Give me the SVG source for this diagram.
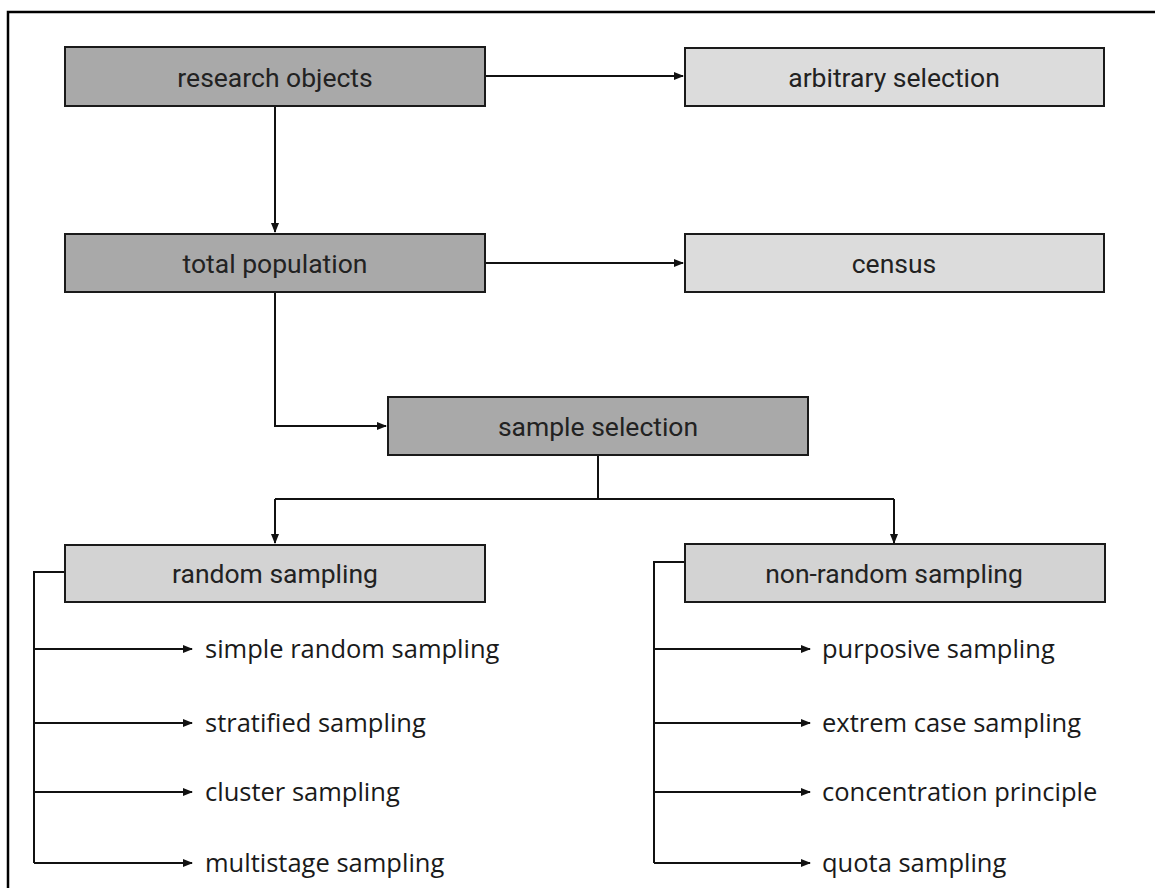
<svg xmlns="http://www.w3.org/2000/svg" width="1155" height="888" viewBox="0 0 1155 888">
<style>
.dark{fill:#a9a9a9;stroke:#1a1a1a;stroke-width:2}
.light{fill:#dcdcdc;stroke:#1a1a1a;stroke-width:2}
.mid{fill:#d3d3d3;stroke:#1a1a1a;stroke-width:2}
.bt{font-family:"Roboto","Liberation Sans",sans-serif;font-size:26.5px;fill:#222;text-anchor:middle;dominant-baseline:central}
.it{font-family:"Open Sans","Liberation Sans",sans-serif;font-size:25.5px;fill:#1a1a1a;dominant-baseline:central}
.c{fill:none;stroke:#111;stroke-width:2}
</style>
<defs>
<marker id="ah" viewBox="0 0 10 10" refX="9" refY="5" markerWidth="5" markerHeight="5" orient="auto" markerUnits="strokeWidth">
<path d="M0,1 L10,5 L0,9 z" fill="#111"/>
</marker>
</defs>
<rect width="1155" height="888" fill="#fff"/>
<path d="M8,888 L8,12 L1155,12" fill="none" stroke="#000" stroke-width="2.5"/>

<g id="connectors">
<path class="c" d="M485,76 H683" marker-end="url(#ah)"/>
<path class="c" d="M275,106 V232" marker-end="url(#ah)"/>
<path class="c" d="M485,263 H683" marker-end="url(#ah)"/>
<path class="c" d="M275,292 V426 H386" marker-end="url(#ah)"/>
<path class="c" d="M598,455 V499"/>
<path class="c" d="M275,499 H894"/>
<path class="c" d="M275,499 V543" marker-end="url(#ah)"/>
<path class="c" d="M894,499 V543" marker-end="url(#ah)"/>
<path class="c" d="M65,572 H34 V863"/>
<path class="c" d="M34,649 H192" marker-end="url(#ah)"/>
<path class="c" d="M34,723 H192" marker-end="url(#ah)"/>
<path class="c" d="M34,792 H192" marker-end="url(#ah)"/>
<path class="c" d="M34,863 H192" marker-end="url(#ah)"/>
<path class="c" d="M685,562 H654 V863"/>
<path class="c" d="M654,649 H810" marker-end="url(#ah)"/>
<path class="c" d="M654,723 H810" marker-end="url(#ah)"/>
<path class="c" d="M654,792 H810" marker-end="url(#ah)"/>
<path class="c" d="M654,863 H810" marker-end="url(#ah)"/>
</g>

<g id="research-objects"><rect class="dark" x="65" y="47" width="420" height="59"/><text class="bt" x="275" y="77">research objects</text></g>
<g id="arbitrary-selection"><rect class="light" x="685" y="48" width="419" height="58"/><text class="bt" x="894" y="77">arbitrary selection</text></g>
<g id="total-population"><rect class="dark" x="65" y="234" width="420" height="58"/><text class="bt" x="275" y="263">total population</text></g>
<g id="census"><rect class="light" x="685" y="234" width="419" height="58"/><text class="bt" x="894" y="263">census</text></g>
<g id="sample-selection"><rect class="dark" x="388" y="397" width="420" height="58"/><text class="bt" x="598" y="426">sample selection</text></g>
<g id="random-sampling"><rect class="mid" x="65" y="545" width="420" height="57"/><text class="bt" x="275" y="573">random sampling</text></g>
<g id="non-random-sampling"><rect class="mid" x="685" y="544" width="420" height="58"/><text class="bt" x="894" y="573">non-random sampling</text></g>

<g id="simple-random-sampling"><text class="it" x="205" y="648">simple random sampling</text></g>
<g id="stratified-sampling"><text class="it" x="205" y="722">stratified sampling</text></g>
<g id="cluster-sampling"><text class="it" x="205" y="791">cluster sampling</text></g>
<g id="multistage-sampling"><text class="it" x="205" y="862">multistage sampling</text></g>
<g id="purposive-sampling"><text class="it" x="822" y="648">purposive sampling</text></g>
<g id="extrem-case-sampling"><text class="it" x="822" y="722">extrem case sampling</text></g>
<g id="concentration-principle"><text class="it" x="822" y="791">concentration principle</text></g>
<g id="quota-sampling"><text class="it" x="822" y="862">quota sampling</text></g>
</svg>
